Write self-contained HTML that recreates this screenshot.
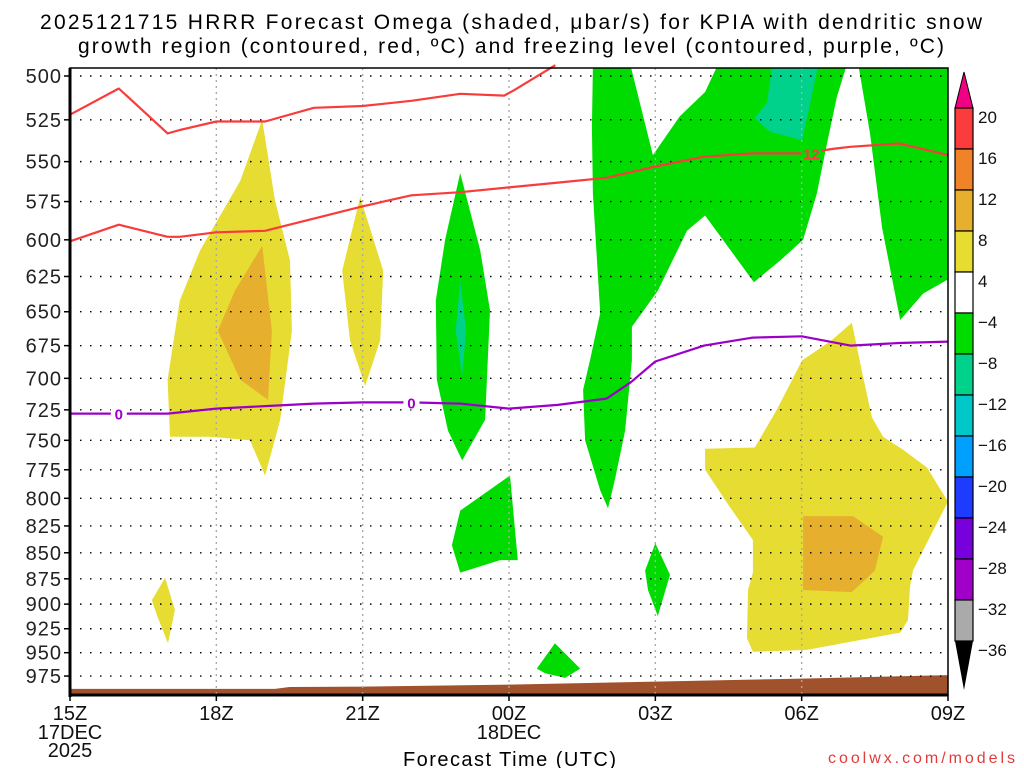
<!DOCTYPE html>
<html><head><meta charset="utf-8"><style>
html,body{margin:0;padding:0;background:#fff;}
svg{display:block;font-family:"Liberation Sans",sans-serif;}
</style></head><body>
<svg id="chart" width="1024" height="768" viewBox="0 0 1024 768" xmlns="http://www.w3.org/2000/svg">
<text x="40" y="29" font-size="21" textLength="942" lengthAdjust="spacing" fill="#000">2025121715 HRRR Forecast Omega (shaded, μbar/s) for KPIA with dendritic snow</text>
<text x="78" y="53" font-size="21" textLength="866" lengthAdjust="spacing" fill="#000">growth region (contoured, red, ºC) and freezing level (contoured, purple, ºC)</text>
<g id="plot"></g>
<text x="403" y="766" font-size="20" textLength="213" lengthAdjust="spacing" fill="#000">Forecast Time (UTC)</text>
<text x="828" y="763" font-size="16" textLength="187" lengthAdjust="spacing" fill="#e03c3c">coolwx.com/models</text>
</svg>
<script>
// ---- data ----
const pressureLevels = [500,525,550,575,600,625,650,675,700,725,750,775,800,825,850,875,900,925,950,975];
const timeTickHours = [0,3,6,9,12,15,18];
const timeTickLabels = ["15Z","18Z","21Z","00Z","03Z","06Z","09Z"];
const cbarLevels = [20,16,12,8,4,-4,-8,-12,-16,-20,-24,-28,-32,-36];
const cbarColors = ["#fa3c3c","#f08228","#e6af2d","#e6dc32","#ffffff","#00dc00","#00d28c","#00c8c8","#00a0ff","#1e3cff","#7800dc","#a000c8","#aaaaaa"];
// shaded omega regions: [hour since 15Z, hPa]
const yellowA = [[2.05,747],[2.0,701],[2.25,642],[2.67,607],[3.49,562],[3.94,525],[4.2,574],[4.51,614],[4.55,664],[4.31,733],[4.0,780],[3.69,750],[2.87,747]];
const orangeA = [[3.03,664],[3.38,635],[3.94,604],[4.14,664],[4.06,717],[3.49,701]];
const yellowB = [[5.58,621],[5.95,572],[6.42,621],[6.36,671],[6.05,706],[5.74,671]];
const yellowC = [[1.68,896],[1.95,874],[2.15,906],[2.01,940],[1.78,911]];
const greenA = [[7.5,642],[7.69,600],[8.0,557],[8.41,607],[8.61,649],[8.51,733],[8.04,767],[7.75,742],[7.52,701]];
const tealA = [[7.91,664],[8.0,628],[8.12,664],[8.04,698]];
const greenB = [[7.83,843],[8.0,811],[9.02,780],[9.18,857],[8.82,857],[8.0,869]];
const greenC = [[9.57,967],[9.94,940],[10.46,967],[10.15,977],[9.74,972]];
const greenD = [[11.79,867],[12.0,841],[12.3,871],[12.05,912],[11.85,886]];
const greenBig = [[10.72,495],[11.5,495],[11.95,546],[12.5,523],[13.02,509],[13.26,495],[15.91,495],[15.72,512],[15.52,539],[15.31,570],[15.03,600],[14.56,614],[14.02,629],[13.02,584],[12.65,594],[12.05,635],[11.52,661],[11.52,686],[11.38,742],[11.17,784],[11.03,809],[10.87,793],[10.56,750],[10.52,709],[10.66,686],[10.87,651],[10.72,570],[10.7,529]];
const tealBig = [[14.39,495],[14.29,515],[14.04,524],[14.35,532],[15.01,537],[15.33,495]];
const greenRight = [[16.17,495],[16.4,533],[16.65,592],[17.02,656],[17.49,637],[18,627],[18,495]];
const yellowBig = [[16.03,658],[16.26,699],[16.44,731],[16.67,747],[17.08,758],[17.57,773],[18,803],[17.63,835],[17.28,867],[17.22,883],[17.18,916],[17.02,929],[15.11,947],[14.0,949],[13.88,935],[13.9,886],[14.0,869],[14.0,838],[13.53,808],[13.02,775],[13.02,757],[14.04,756],[14.49,725],[15.01,686],[15.58,672]];
const orangeBig = [[15.03,816],[16.05,816],[16.67,835],[16.5,867],[16.03,888],[15.03,886]];
// contour lines
const redTopHours = [0,1,2,2.25,3,4,5,6,7,8,8.9,9.1,9.95];
const redTopP = [522,507,533,531,526,526,518,517,514,510,511,508,494];
const redLowHours = [0,1,2,2.25,3,4,5,6,7,8,9,10,11,12,13,14,15,15.7,16,17,18];
const redLowP = [601,590,598,598,595,594,586,578,571,569,566,563,560,553,547,545,545,542,541,539,546];
const frzHours = [0,1,2,3,4,5,6,7,8,9,10,11,11.5,12,13,14,15,16,17,18];
const frzP = [728,728,728,724,722,720,719,719,720,724,721,716,703,687,675,669,668,675,673,672];
const sfcHours = [0,4.2,4.5,6,9,12,15,18];
const sfcP = [989,989,987,986.5,984.3,981,977.8,974];

// ---- axes ----
const X0=70, X1=948, Y0=68, Y1=695;
const xs = h => X0 + h*(X1-X0)/18;
const ys = p => 76 + 898.5*Math.log(p/500);
const NS="http://www.w3.org/2000/svg";
const plot=document.getElementById('plot');
function mk(tag,attrs,parent){const e=document.createElementNS(NS,tag);for(const k in attrs)e.setAttribute(k,attrs[k]);(parent||plot).appendChild(e);return e;}
function line(hs,ps,color,name){
  const e=mk('polyline',{points:hs.map((h,i)=>xs(h).toFixed(1)+','+ys(ps[i]).toFixed(1)).join(' '),fill:'none',stroke:color,'stroke-width':2.2,'stroke-linejoin':'round'});
  
  
}
const clip=mk('clipPath',{id:'pc'});mk('rect',{x:X0,y:Y0,width:X1-X0,height:Y1-Y0},clip);
const g=mk('g',{'clip-path':'url(#pc)'});
// fills
const fills=[[greenBig,'#00dc00','omega-green-region-large'],[tealBig,'#00d28c','omega-teal-region-top'],[greenRight,'#00dc00','omega-green-region-right'],
[yellowA,'#e6dc32','omega-yellow-region-18z'],[orangeA,'#e6af2d','omega-orange-region-18z'],[yellowB,'#e6dc32','omega-yellow-region-21z'],[yellowC,'#e6dc32','omega-yellow-region-17z'],
[greenA,'#00dc00','omega-green-region-23z'],[tealA,'#00d28c','omega-teal-region-23z'],[greenB,'#00dc00','omega-green-region-00z'],[greenC,'#00dc00','omega-green-region-01z'],[greenD,'#00dc00','omega-green-region-03z'],
[yellowBig,'#e6dc32','omega-yellow-region-06z'],[orangeBig,'#e6af2d','omega-orange-region-06z']];
fills.forEach(f=>{const e=mk('polygon',{points:f[0].map(q=>xs(q[0]).toFixed(1)+','+ys(q[1]).toFixed(1)).join(' '),fill:f[1]},g);
  
  });
// terrain
{const pts=sfcHours.map((h,i)=>xs(h).toFixed(1)+','+ys(sfcP[i]).toFixed(1));pts.push(X1+','+Y1,X0+','+Y1);
 const e=mk('polygon',{points:pts.join(' '),fill:'#a0522d'},g);
 
 }
// grid
pressureLevels.forEach(p=>{const e=mk('line',{x1:X0,x2:X1,y1:ys(p),y2:ys(p),stroke:'#000','stroke-width':1.4,'stroke-dasharray':'1.5 8.5'});
 
 });
timeTickHours.slice(1,-1).forEach(h=>{const e=mk('line',{x1:xs(h),x2:xs(h),y1:Y0,y2:Y1,stroke:'#aaa','stroke-width':1.4,'stroke-dasharray':'2 4'});
 
 });
// lines
line(redTopHours,redTopP,'#f83c3c','dgz-line-upper');
line(redLowHours,redLowP,'#f83c3c','dgz-line-lower');
line(frzHours,frzP,'#9b00c8','freezing-level-line');
// contour labels
function clabel(h,p,t,color,name){
  const x=xs(h),y=ys(p);
  mk('rect',{x:x-8,y:y-8,width:16,height:15,fill:'#fff'});
  const e=mk('text',{x:x,y:y+6,'font-size':15,'font-weight':'bold','text-anchor':'middle',fill:color});e.textContent=t;
  
  
}
{const x=xs(15.2),y=ys(545);mk('rect',{x:x-10,y:y-8,width:20,height:14,fill:'#00dc00'});
 const e=mk('text',{x:x,y:y+6,'font-size':15,'font-weight':'bold','text-anchor':'middle',fill:'#f83c3c'});e.textContent='12';
 
 }
clabel(1,728,'0','#9b00c8','freezing-label-1');
clabel(7,719,'0','#9b00c8','freezing-label-2');
// frame
mk('rect',{x:X0,y:Y0,width:X1-X0,height:Y1-Y0,fill:'none',stroke:'#000','stroke-width':1.5});
mk('line',{x1:X0,x2:X0,y1:Y0,y2:Y1+2,stroke:'#000','stroke-width':3});
mk('line',{x1:X0,x2:X1,y1:Y1,y2:Y1,stroke:'#000','stroke-width':3});
// y labels
pressureLevels.forEach(p=>{
  mk('line',{x1:X0-6,x2:X0,y1:ys(p),y2:ys(p),stroke:'#000','stroke-width':1.5});
  const e=mk('text',{x:X0-8,y:ys(p)+7,'font-size':20,'text-anchor':'end','letter-spacing':1,fill:'#222'});e.textContent=p;
  
  
});
timeTickHours.forEach((h,i)=>{
  mk('line',{x1:xs(h),x2:xs(h),y1:Y1,y2:Y1+6,stroke:'#000','stroke-width':1.5});
  const e=mk('text',{x:xs(h),y:720,'font-size':20,'text-anchor':'middle',fill:'#111'});e.textContent=timeTickLabels[i];
  
  
});
[['17DEC',xs(0),739],['2025',xs(0),757],['18DEC',xs(9),739]].forEach(d=>{
  const e=mk('text',{x:d[1],y:d[2],'font-size':20,'text-anchor':'middle',fill:'#111'});e.textContent=d[0];
  
  
});
// colorbar
const CX=955, CW=18, CT=108, CH=41;
{const e=mk('polygon',{points:`${CX},${CT} ${CX+CW},${CT} ${CX+CW/2},72`,fill:'#f00082',stroke:'#000','stroke-width':1});
  }
cbarColors.forEach((c,i)=>{const e=mk('rect',{x:CX,y:CT+i*CH,width:CW,height:CH,fill:c,stroke:'#000','stroke-width':1.2});
  });
{const yb=CT+cbarColors.length*CH;const e=mk('polygon',{points:`${CX},${yb} ${CX+CW},${yb} ${CX+CW/2},690`,fill:'#000'});
  }
cbarLevels.forEach((v,i)=>{const e=mk('text',{x:978,y:CT+i*CH+15,'font-size':17,fill:'#111'});e.textContent=(v<0?'\u2212'+(-v):String(v));
  });
</script>
</body></html>
